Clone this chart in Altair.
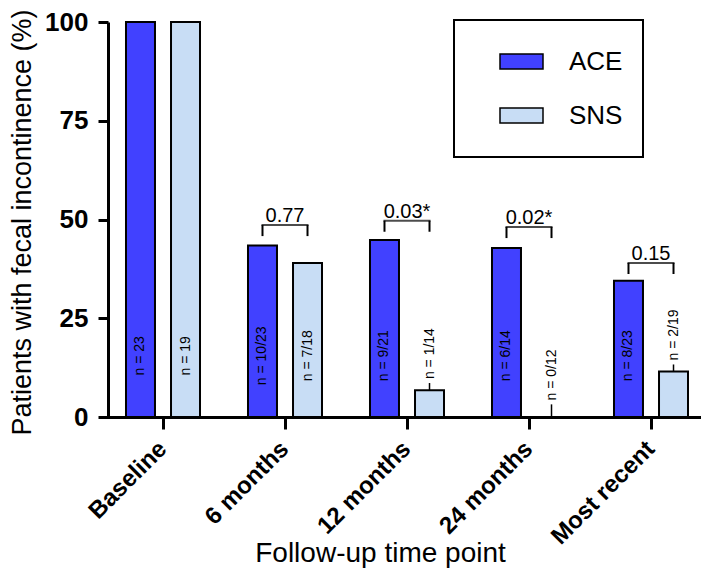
import altair as alt
import pandas as pd

# ---- data ----
categories = ["Baseline", "6 months", "12 months", "24 months", "Most recent"]
groups = ["ACE", "SNS"]
ace_pct = [100, 43.4, 44.8, 42.8, 34.5]
sns_pct = [100, 39.0, 6.8, 0, 11.5]
ace_n = ["n = 23", "n = 10/23", "n = 9/21", "n = 6/14", "n = 8/23"]
sns_n = ["n = 19", "n = 7/18", "n = 1/14", "n = 0/12", "n = 2/19"]
sns_stub = [0, 0, 1.8, 3.2, 1.8]
p_text = ["", "0.77", "0.03*", "0.02*", "0.15"]
bracket_y = [None, 48.6, 49.7, 48.1, 39.0]
colors = ["#4141FF", "#C8DDF5"]

FONT = "Liberation Sans"

rows = []
for i, c in enumerate(categories):
    rows.append(dict(cat=c, grp="ACE", pct=ace_pct[i], n=ace_n[i], stub=0.0))
    rows.append(dict(cat=c, grp="SNS", pct=sns_pct[i], n=sns_n[i], stub=sns_stub[i]))
df = pd.DataFrame(rows)
df["inside"] = df["pct"] >= 20
df["stub_top"] = df["pct"] + df["stub"]
df["label_y"] = df.apply(lambda r: 15.5 if r["inside"] else r["stub_top"] + 1.0, axis=1)

br = pd.DataFrame([dict(cat=c, y=bracket_y[i], ybot=bracket_y[i] - 2.8, p=p_text[i])
                   for i, c in enumerate(categories) if p_text[i]])
br_legs = pd.DataFrame([dict(cat=r.cat, grp=g, y=r.y, ybot=r.ybot) for r in br.itertuples() for g in groups])

Y_TITLE = "Patients with fecal incontinence (%)"

xscale = alt.Scale(domain=categories, range=[-6, 604], paddingInner=0, paddingOuter=0)
xaxis = alt.Axis(title="Follow-up time point", labelAngle=315, labelAlign="right", labelBaseline="middle",
                 labelFontSize=24, labelFontWeight="bold", labelColor="black", labelPadding=16,
                 labelOverlap=False, tickSize=12, tickWidth=3, tickColor="black",
                 domainWidth=3, domainColor="black",
                 titleFontSize=28, titleFontWeight="normal", titleColor="black",
                 titleX=272, titleY=144, titleAlign="center", titleBaseline="alphabetic")
yscale = alt.Scale(domain=[0, 100], nice=False)
yaxis = alt.Axis(values=[0, 25, 50, 75, 100], grid=False, domainColor="black", domainWidth=3,
                 tickColor="black", tickWidth=3, tickSize=10, labelFontSize=26, labelFontWeight="bold",
                 labelColor="black", labelPadding=10, titleFontSize=27, titleFontWeight="normal",
                 titleColor="black", titleX=-78, titleY=200, titleAngle=270, titleAlign="center",
                 titleBaseline="alphabetic")

xenc = alt.X("cat:N", sort=categories, scale=xscale, axis=xaxis)
xoff = alt.XOffset("grp:N", scale=alt.Scale(domain=groups, paddingInner=0.356, paddingOuter=0.533))


def yenc(field):
    return alt.Y(field, scale=yscale, axis=yaxis, title=Y_TITLE)


legend = alt.Legend(title=None, orient="none", legendX=346, legendY=-2,
                    symbolType="M-1,-0.35H1V0.35H-1Z", symbolSize=1849,
                    symbolStrokeColor="black", symbolStrokeWidth=1.5,
                    labelFontSize=26, labelColor="black", labelOffset=25, symbolOffset=25,
                    padding=20, rowPadding=11, clipHeight=43, strokeColor="black",
                    labelExpr="datum.label + '\u2003\u2009'")

base = alt.Chart(df).encode(x=xenc, xOffset=xoff)

bars = base.mark_bar(stroke="black", strokeWidth=2).encode(
    y=yenc("pct:Q"),
    color=alt.Color("grp:N", scale=alt.Scale(domain=groups, range=colors), legend=legend),
)

inside_lbl = base.transform_filter("datum.inside").mark_text(
    angle=270, align="center", baseline="middle", fontSize=14, color="black"
).encode(y=yenc("label_y:Q"), text="n:N")

outside_lbl = base.transform_filter("!datum.inside").mark_text(
    angle=270, align="left", baseline="middle", fontSize=14, color="black"
).encode(y=yenc("label_y:Q"), text="n:N")

stubs = base.transform_filter("datum.stub > 0").mark_rule(strokeWidth=1.5, color="black").encode(
    y=yenc("pct:Q"), y2="stub_top:Q")

legs = alt.Chart(br_legs).mark_rule(strokeWidth=2, color="black").encode(
    x=xenc, xOffset=xoff, y=yenc("y:Q"), y2="ybot:Q")

hbar = alt.Chart(br).mark_tick(orient="horizontal", size=47, thickness=2, color="black").encode(
    x=xenc, y=yenc("y:Q"))

ptxt = alt.Chart(br).mark_text(fontSize=20, align="center", baseline="alphabetic", dy=-3,
                               color="black").encode(x=xenc, y=yenc("y:Q"), text="p:N")

chart = alt.layer(bars, inside_lbl, outside_lbl, stubs, legs, hbar, ptxt).properties(
    width=593, height=395,
    autosize=alt.AutoSizeParams(type="none"),
    padding={"left": 100, "top": 14, "right": 0, "bottom": 151},
).configure(font=FONT).configure_view(stroke=None).configure_legend(strokeWidth=2)

chart.save("out.html", embed_options={"renderer": "svg", "actions": False})
